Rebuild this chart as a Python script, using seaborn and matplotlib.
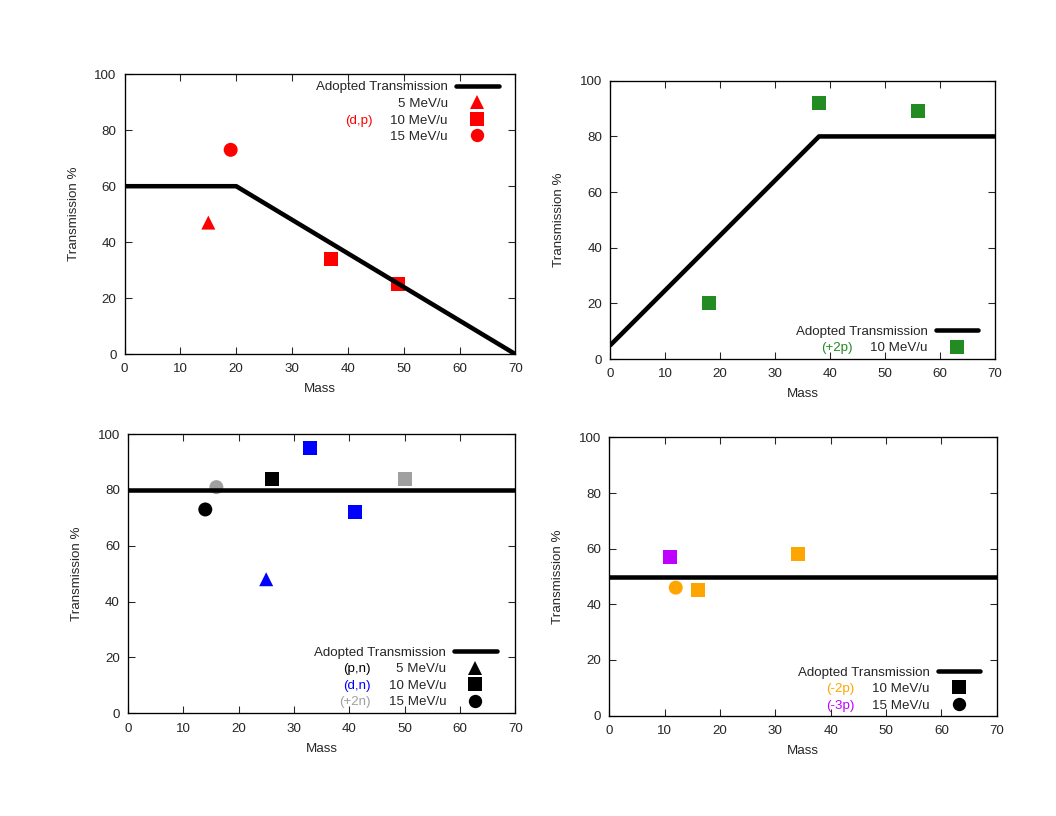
import numpy as np
import pandas as pd
import matplotlib
matplotlib.use("Agg")
import matplotlib.pyplot as plt
from matplotlib.lines import Line2D
import seaborn as sns

# ---- data ----
# panel 1: (d,p)
p1_line_mass = [0, 20, 70]
p1_line_trans = [60, 60, 0]
p1_mass = [15, 19, 37, 49]
p1_trans = [47, 73, 34, 25]
p1_energy = ["5", "15", "10", "10"]
p1_reaction = ["(d,p)", "(d,p)", "(d,p)", "(d,p)"]

# panel 2: (+2p)
p2_line_mass = [0, 38, 70]
p2_line_trans = [5, 80, 80]
p2_mass = [18, 38, 56]
p2_trans = [20, 92, 89]
p2_energy = ["10", "10", "10"]
p2_reaction = ["(+2p)", "(+2p)", "(+2p)"]

# panel 3: (p,n), (d,n), (+2n)
p3_line_mass = [0, 70]
p3_line_trans = [80, 80]
p3_mass = [14, 16, 25, 26, 33, 41, 50]
p3_trans = [73, 81, 48, 84, 95, 72, 84]
p3_energy = ["15", "15", "5", "10", "10", "10", "10"]
p3_reaction = ["(p,n)", "(+2n)", "(d,n)", "(p,n)", "(d,n)", "(d,n)", "(+2n)"]

# panel 4: (-2p), (-3p)
p4_line_mass = [0, 70]
p4_line_trans = [50, 50]
p4_mass = [11, 12, 16, 34]
p4_trans = [57, 46, 45, 58]
p4_energy = ["10", "15", "10", "10"]
p4_reaction = ["(-3p)", "(-2p)", "(-2p)", "(-2p)"]

reaction_colors = {"(d,p)": "#ff0000", "(+2p)": "#228b22", "(p,n)": "#000000",
                   "(d,n)": "#0000ff", "(+2n)": "#a0a0a0", "(-2p)": "#ffa500",
                   "(-3p)": "#c000ff"}
energy_markers = {"5": "^", "10": "s", "15": "o"}

# ---- style ----
sns.set_style("ticks")
plt.rcParams["font.family"] = ["Liberation Sans", "DejaVu Sans"]
plt.rcParams["font.size"] = 10

fig = plt.figure(figsize=(11, 8.5), dpi=96)
rects = [[0.118, 0.566, 0.370, 0.343],
         [0.578, 0.560, 0.364, 0.341],
         [0.121, 0.126, 0.367, 0.342],
         [0.577, 0.123, 0.367, 0.341]]

panels = [
    (p1_line_mass, p1_line_trans, p1_mass, p1_trans, p1_energy, p1_reaction),
    (p2_line_mass, p2_line_trans, p2_mass, p2_trans, p2_energy, p2_reaction),
    (p3_line_mass, p3_line_trans, p3_mass, p3_trans, p3_energy, p3_reaction),
    (p4_line_mass, p4_line_trans, p4_mass, p4_trans, p4_energy, p4_reaction),
]

# legend per panel: energies listed, legend marker colour, location, anchor, reaction labels (row)
legend_cfg = [
    (["5", "10", "15"], "#ff0000", "upper right", (0.957, 0.976), [("(d,p)", 2)]),
    (["10"], "#228b22", "lower right", (0.957, 0.017), [("(+2p)", 1)]),
    (["5", "10", "15"], "#000000", "lower right", (0.952, 0.017), [("(p,n)", 1), ("(d,n)", 2), ("(+2n)", 3)]),
    (["10", "15"], "#000000", "lower right", (0.957, 0.014), [("(-2p)", 1), ("(-3p)", 2)]),
]

for i, (lm, lt, m, t, e, r) in enumerate(panels):
    ax = fig.add_axes(rects[i])
    sns.lineplot(x=lm, y=lt, ax=ax, color="black", linewidth=3.4, sort=False)
    df = pd.DataFrame({"Mass": m, "Transmission": t, "Energy": e, "Reaction": r})
    sns.scatterplot(data=df, x="Mass", y="Transmission", hue="Reaction", style="Energy",
                    palette=reaction_colors, markers=energy_markers, s=110,
                    edgecolor="none", legend=False, ax=ax)
    ax.set_xlim(0, 70)
    ax.set_ylim(0, 100)
    ax.set_xticks(np.arange(0, 71, 10))
    ax.set_yticks(np.arange(0, 101, 20))
    ax.tick_params(direction="in", length=5, width=0.8, top=True, right=True, labelsize=10)
    ax.tick_params(axis="x", pad=7)
    ax.tick_params(axis="y", pad=6)
    for sp in ax.spines.values():
        sp.set_linewidth(1.0)
        sp.set_color("black")
    ax.set_xlabel("Mass", fontsize=10, labelpad=6)
    ax.set_ylabel("Transmission %", fontsize=10, labelpad=11)

    energies, mcol, loc, anchor, rlabels = legend_cfg[i]
    handles = [Line2D([], [], color="black", linewidth=3.4)]
    labels = ["Adopted Transmission"]
    for en in energies:
        handles.append(Line2D([], [], linestyle="none", marker=energy_markers[en],
                              color=mcol, markersize=10, markeredgewidth=0))
        labels.append(f"{en} MeV/u")
    leg = ax.legend(handles, labels, loc=loc, bbox_to_anchor=anchor, markerfirst=False,
                    frameon=False, fontsize=10, handlelength=3.2, handletextpad=0.6,
                    labelspacing=0.32, borderaxespad=0.0, borderpad=0.0)
    fig.canvas.draw()
    texts = leg.get_texts()
    renderer = fig.canvas.get_renderer()
    inv = ax.transAxes.inverted()
    # reaction labels sit left of the widest "10 MeV/u" entry
    ref_row = labels.index("10 MeV/u")
    xref = inv.transform((texts[ref_row].get_window_extent(renderer).x0, 0))[0]
    for lab, row in rlabels:
        bb = texts[row].get_window_extent(renderer)
        y0 = inv.transform((0, (bb.y0 + bb.y1) / 2))[1]
        ax.text(xref - 0.045, y0, lab, transform=ax.transAxes, ha="right", va="center",
                color=reaction_colors[lab], fontsize=10)

fig.savefig("out.png", dpi=96)
